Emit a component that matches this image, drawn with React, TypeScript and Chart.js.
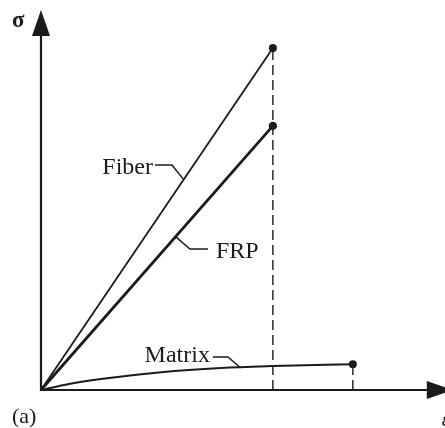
import React, { useEffect, useRef } from "react";
import { Chart, registerables } from "chart.js";

Chart.register(...registerables);

// Strain (ε) and stress (σ) values, arbitrary units
const fiberEps = [0, 5.8];
const fiberSig = [0, 9.0];
const frpEps = [0, 5.8];
const frpSig = [0, 6.95];
const matrixEps = [0, 0.7, 1.5, 3.0, 4.5, 5.8, 7.8];
const matrixSig = [0, 0.16, 0.29, 0.47, 0.58, 0.63, 0.68];

// Failure-strain drop lines
const failEps = [5.8, 7.8];
const failSig = [9.0, 0.68];

// Leader lines for labels
const fiberLeaderEps = [2.85, 3.275, 3.575];
const fiberLeaderSig = [5.92, 5.92, 5.53];
const frpLeaderEps = [3.375, 3.725, 4.175];
const frpLeaderSig = [4.03, 3.71, 3.71];
const matrixLeaderEps = [4.3, 4.675, 4.975];
const matrixLeaderSig = [0.87, 0.87, 0.6];

const axisMaxEps = 10.3;
const axisMaxSig = 10.0;

const labelFiber = "Fiber";
const labelFrp = "FRP";
const labelMatrix = "Matrix";
const axisLabelY = "σ";
const axisLabelX = "ε";
const panelLabel = "(a)";

const INK = "#1c1a1b";
const FONT = "'Liberation Serif', 'DejaVu Serif', serif";

const pts = (xs: number[], ys: number[]) => xs.map((x, i) => ({ x, y: ys[i] }));

export default function App() {
  const ref = useRef<HTMLCanvasElement | null>(null);

  useEffect(() => {
    const canvas = ref.current;
    if (!canvas) return;

    const overlay = {
      id: "overlay",
      beforeDatasetsDraw(chart: any) {
        const ctx = chart.ctx;
        const xs = chart.scales.x;
        const ys = chart.scales.y;
        const x0 = xs.getPixelForValue(0);
        const y0 = ys.getPixelForValue(0);
        const yTop = ys.getPixelForValue(axisMaxSig);
        const xEnd = xs.getPixelForValue(axisMaxEps);
        ctx.save();
        ctx.strokeStyle = INK;
        ctx.fillStyle = INK;
        ctx.lineWidth = 2.2;
        ctx.beginPath();
        ctx.moveTo(x0, yTop + 20);
        ctx.lineTo(x0, y0);
        ctx.lineTo(xEnd - 20, y0);
        ctx.stroke();
        // y arrow
        ctx.beginPath();
        ctx.moveTo(x0, yTop);
        ctx.lineTo(x0 - 9, yTop + 26);
        ctx.lineTo(x0 + 9, yTop + 26);
        ctx.closePath();
        ctx.fill();
        // x arrow
        ctx.beginPath();
        ctx.moveTo(xEnd, y0);
        ctx.lineTo(xEnd - 26, y0 - 9);
        ctx.lineTo(xEnd - 26, y0 + 9);
        ctx.closePath();
        ctx.fill();
        ctx.restore();
      },
      afterDatasetsDraw(chart: any) {
        const ctx = chart.ctx;
        const xs = chart.scales.x;
        const ys = chart.scales.y;
        const px = (e: number) => xs.getPixelForValue(e);
        const py = (s: number) => ys.getPixelForValue(s);
        ctx.save();
        ctx.fillStyle = INK;
        ctx.textBaseline = "alphabetic";
        ctx.font = `24px ${FONT}`;
        ctx.textAlign = "right";
        ctx.fillText(labelFiber, px(fiberLeaderEps[0]) - 2, py(fiberLeaderSig[0]) + 9);
        ctx.fillText(labelMatrix, px(matrixLeaderEps[0]) - 3, py(matrixLeaderSig[0]) + 5);
        ctx.textAlign = "left";
        ctx.fillText(labelFrp, px(frpLeaderEps[2]) + 8, py(frpLeaderSig[2]) + 9);

        const x0 = px(0);
        const y0 = py(0);
        ctx.font = `bold 23px ${FONT}`;
        ctx.textAlign = "left";
        ctx.fillText(axisLabelY, x0 - 29, py(axisMaxSig) + 17);
        ctx.font = `italic 21px ${FONT}`;
        ctx.fillText(axisLabelX, px(axisMaxEps) - 11, y0 + 36);
        ctx.font = `22px ${FONT}`;
        ctx.fillText(panelLabel, x0 - 29, y0 + 33);
        ctx.restore();
      },
    };

    const solid = (data: any[], width: number, radius: number[]) => ({
      data,
      borderColor: INK,
      backgroundColor: INK,
      borderWidth: width,
      pointRadius: radius,
      pointHoverRadius: radius,
      pointBorderWidth: 0,
      showLine: true,
      fill: false,
      clip: false as any,
    });

    const endOnly = (n: number, r: number) => Array.from({ length: n }, (_, i) => (i === n - 1 ? r : 0));

    const chart = new Chart(canvas, {
      type: "scatter",
      data: {
        datasets: [
          solid(pts(fiberEps, fiberSig), 1.8, endOnly(fiberEps.length, 4)),
          solid(pts(frpEps, frpSig), 2.8, endOnly(frpEps.length, 4.2)),
          {
            ...solid(pts(matrixEps, matrixSig), 2.0, endOnly(matrixEps.length, 4)),
            cubicInterpolationMode: "monotone",
          } as any,
          ...failEps.map((e, i) => ({
            data: [
              { x: e, y: 0 },
              { x: e, y: failSig[i] },
            ],
            borderColor: INK,
            borderWidth: 1.4,
            borderDash: [10, 5],
            pointRadius: 0,
            showLine: true,
            fill: false,
            clip: false as any,
          })),
          solid(pts(fiberLeaderEps, fiberLeaderSig), 1.5, [0, 0, 0]),
          solid(pts(frpLeaderEps, frpLeaderSig), 1.5, [0, 0, 0]),
          solid(pts(matrixLeaderEps, matrixLeaderSig), 1.5, [0, 0, 0]),
        ],
      },
      options: {
        animation: false,
        responsive: false,
        devicePixelRatio: 1,
        layout: { padding: { left: 41, right: 4, top: 10, bottom: 38 } },
        plugins: { legend: { display: false }, tooltip: { enabled: false } },
        events: [],
        scales: {
          x: { type: "linear", min: 0, max: 10, display: false },
          y: { type: "linear", min: 0, max: 10, display: false },
        },
      },
      plugins: [overlay],
    });

    return () => chart.destroy();
  }, []);

  return (
    <div style={{ position: "absolute", left: 0, top: 0, width: 445, height: 428, background: "#fff" }}>
      <canvas ref={ref} width={445} height={428} style={{ display: "block" }} />
    </div>
  );
}
